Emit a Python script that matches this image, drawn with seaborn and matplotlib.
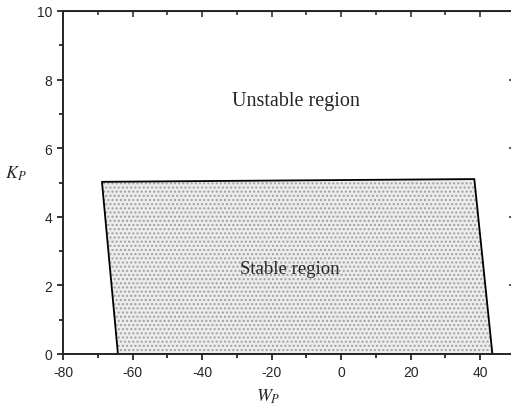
import matplotlib
matplotlib.use("Agg")
import matplotlib.pyplot as plt
import seaborn as sns
import pandas as pd
from matplotlib.ticker import MultipleLocator

# Boundary of the stable region in the (W_P, K_P) plane
w_boundary = [-64.2, -68.8, 38.3, 43.5, -64.2]
k_boundary = [0.0, 5.02, 5.10, 0.0, 0.0]

x_ticks = [-80, -60, -40, -20, 0, 20, 40]
y_ticks = [0, 2, 4, 6, 8, 10]

sns.set_style("ticks")
plt.rcParams["font.family"] = ["Liberation Sans", "DejaVu Sans"]
plt.rcParams["mathtext.fontset"] = "stix"
plt.rcParams["axes.unicode_minus"] = False

fig = plt.figure(figsize=(5.11, 4.10), dpi=100)
ax = fig.add_axes([63 / 511, 55 / 410, 452 / 511, 343 / 410])

df = pd.DataFrame({"W": w_boundary, "K": k_boundary})

# Stippled fill of the stable region
ax.fill(df["W"], df["K"], facecolor="#ececec", edgecolor="#a0a0a0",
        hatch="....", linewidth=0)
sns.lineplot(data=df, x="W", y="K", sort=False, estimator=None,
             color="black", linewidth=1.3, ax=ax)

ax.set_xlim(-80, 50)
ax.set_ylim(0, 10)
ax.set_xticks(x_ticks)
ax.set_yticks(y_ticks)
ax.xaxis.set_minor_locator(MultipleLocator(10))
ax.yaxis.set_minor_locator(MultipleLocator(1))
ax.tick_params(which="both", direction="out", labelsize=10, width=1.1, color="black")
ax.tick_params(which="major", length=4.5)
ax.tick_params(which="minor", length=3)
for s in ax.spines.values():
    s.set_linewidth(1.4)
    s.set_visible(True)

# Mirrored inward ticks on top and right
top = ax.secondary_xaxis("top")
top.set_xticks(x_ticks)
top.xaxis.set_minor_locator(MultipleLocator(10))
top.tick_params(which="both", direction="in", labeltop=False, width=1.1)
top.tick_params(which="major", length=4.5)
top.tick_params(which="minor", length=3)
right = ax.secondary_yaxis("right")
right.set_yticks(y_ticks)
right.yaxis.set_minor_locator(MultipleLocator(1))
right.tick_params(which="both", direction="in", labelright=False, width=1.1)
right.tick_params(which="major", length=4.5)
right.tick_params(which="minor", length=3)

serif = ["Liberation Serif", "DejaVu Serif"]
ax.text(-13.0, 7.40, "Unstable region", family=serif, fontsize=14.5,
        ha="center", va="center")
ax.text(-14.8, 2.48, "Stable region", family=serif, fontsize=13.5,
        ha="center", va="center")

ax.set_xlabel(r"$W_P$", fontsize=13)
ax.set_ylabel(r"$K_P$", fontsize=13, rotation=0)
ax.xaxis.set_label_coords((268 - 63) / 452, -0.095)
ax.yaxis.set_label_coords(-0.105, (355 - 183) / 343)

fig.savefig("out.png", dpi=100)
